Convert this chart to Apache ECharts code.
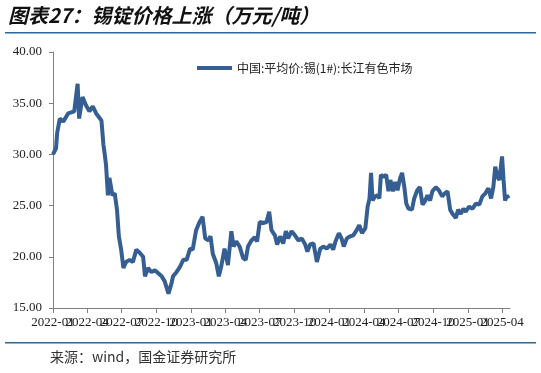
<!DOCTYPE html>
<html>
<head>
<meta charset="utf-8">
<script src="https://cdn.jsdelivr.net/npm/echarts@6/dist/echarts.min.js"></script>
<style>
html,body{margin:0;padding:0;background:#fff;}
#chart{width:541px;height:373px;}
</style>
</head>
<body>
<div id="chart"></div>
<script>
const titleText = '图表27：锡锭价格上涨（万元/吨）';
const sourceText = '来源：wind，国金证券研究所';
const seriesName = '中国:平均价:锡(1#):长江有色市场';

const dates = [
'2022-01-01','2022-01-09','2022-01-12','2022-01-19','2022-01-28','2022-02-10','2022-02-26','2022-03-07','2022-03-11','2022-03-20',
'2022-03-29','2022-04-07','2022-04-16','2022-04-25','2022-05-05','2022-05-09','2022-05-14','2022-05-17','2022-05-21','2022-05-26',
'2022-05-30','2022-06-07','2022-06-13','2022-06-19','2022-06-24','2022-06-30','2022-07-06','2022-07-13','2022-07-22','2022-07-31',
'2022-08-09','2022-08-18','2022-08-27','2022-09-01','2022-09-09','2022-09-18','2022-09-27','2022-10-06','2022-10-15','2022-10-23',
'2022-11-02','2022-11-10','2022-11-14','2022-11-23','2022-12-02','2022-12-11','2022-12-20','2022-12-29','2023-01-05','2023-01-14',
'2023-01-23','2023-01-31','2023-02-07','2023-02-15','2023-02-21','2023-02-27','2023-03-08','2023-03-15','2023-03-21','2023-03-30',
'2023-04-08','2023-04-17','2023-04-23','2023-04-30','2023-05-09','2023-05-18','2023-05-25','2023-05-31','2023-06-09','2023-06-18',
'2023-06-24','2023-07-01','2023-07-10','2023-07-19','2023-07-26','2023-08-01','2023-08-10','2023-08-16','2023-08-24','2023-09-01',
'2023-09-08','2023-09-14','2023-09-23','2023-10-02','2023-10-11','2023-10-20','2023-10-29','2023-11-04','2023-11-11','2023-11-20',
'2023-11-29','2023-12-08','2023-12-16','2023-12-25','2024-01-04','2024-01-11','2024-01-17','2024-01-26','2024-02-02','2024-02-08',
'2024-02-16','2024-02-25','2024-03-04','2024-03-13','2024-03-20','2024-03-27','2024-04-05','2024-04-11','2024-04-16','2024-04-20',
'2024-04-24','2024-05-01','2024-05-07','2024-05-12','2024-05-16','2024-05-23','2024-05-30','2024-06-05','2024-06-10','2024-06-17',
'2024-06-23','2024-06-29','2024-07-06','2024-07-11','2024-07-17','2024-07-22','2024-07-28','2024-08-06','2024-08-12','2024-08-20',
'2024-08-27','2024-09-03','2024-09-09','2024-09-16','2024-09-23','2024-09-29','2024-10-08','2024-10-16','2024-10-25','2024-11-01',
'2024-11-08','2024-11-15','2024-11-21','2024-11-30','2024-12-06','2024-12-13','2024-12-20','2024-12-26','2025-01-04','2025-01-13',
'2025-01-22','2025-01-31','2025-02-08','2025-02-16','2025-02-24','2025-03-03','2025-03-09','2025-03-14','2025-03-20','2025-03-25',
'2025-04-01','2025-04-05','2025-04-09','2025-04-14','2025-04-18'
];
const prices = [
30.0,30.6,32.1,33.5,33.2,34.0,34.2,36.9,33.5,35.6,
34.8,34.2,34.7,34.0,33.5,33.3,31.0,30.2,29.0,26.0,
27.7,26.0,26.2,24.6,22.0,20.7,18.9,19.5,19.7,19.5,
20.7,20.4,20.0,18.1,18.9,18.5,18.7,18.4,18.1,17.6,
16.4,17.4,18.1,18.5,19.0,19.7,19.7,20.8,20.7,22.6,
23.4,23.9,21.8,21.6,22.0,20.3,19.4,18.1,19.0,20.8,
19.2,22.5,21.0,21.5,21.0,19.9,19.7,21.0,21.6,21.9,
21.5,23.4,23.3,23.4,24.4,22.6,22.1,21.2,22.0,21.3,
22.5,21.8,22.5,22.1,21.6,21.8,21.2,20.5,21.2,21.3,
19.5,20.8,21.0,20.8,21.2,20.7,21.5,22.3,21.8,21.0,
21.8,22.0,22.1,22.6,23.1,22.3,22.8,24.9,25.7,28.2,
25.5,25.9,26.0,25.7,28.0,27.8,28.0,26.4,27.5,26.4,
27.3,26.5,27.7,28.2,26.8,25.2,24.7,24.6,25.7,26.5,
26.8,25.1,25.4,26.0,25.5,26.4,26.8,26.5,25.9,26.2,
26.4,24.6,24.2,23.8,24.6,24.2,24.7,24.4,24.9,24.7,
25.2,25.1,25.9,26.2,26.7,25.7,26.8,28.8,27.8,27.5,
29.8,27.5,25.5,26.0,25.7
];
const tickMonths = ['2022-01','2022-04','2022-07','2022-10','2023-01','2023-04','2023-07','2023-10',
                    '2024-01','2024-04','2024-07','2024-10','2025-01','2025-04'];
const yTicks = [15, 20, 25, 30, 35, 40];
const xStart = '2022-01-01';
const xEnd = '2025-04-22';

function pad(n){ return n < 10 ? '0' + n : '' + n; }
function fmt(d){ return d.getFullYear() + '-' + pad(d.getMonth()+1) + '-' + pad(d.getDate()); }
function parse(s){ const p = s.split('-').map(Number); return new Date(p[0], p[1]-1, p[2]); }

// calendar days of the axis range
const allDays = [];
for (let d = parse(xStart); d <= parse(xEnd); d.setDate(d.getDate()+1)) allDays.push(fmt(d));
const priceByDate = {};
dates.forEach((d,i)=>{ priceByDate[d] = prices[i]; });
const seriesData = allDays.map(d => (d in priceByDate) ? priceByDate[d] : null);
const tickSet = new Set(tickMonths.map(m => m + '-01'));

const chart = echarts.init(document.getElementById('chart'));
chart.setOption({
  animation:false,
  backgroundColor:'#fff',
  graphic:[
    {type:'text', left:8, top:5, style:{text:titleText, font:'italic bold 20px "Noto Sans CJK SC"', fill:'#111'}},
    {type:'rect', shape:{x:5,y:32,width:531,height:1.5}, style:{fill:'#2b6699'}},
    {type:'rect', shape:{x:5,y:342,width:531,height:1.5}, style:{fill:'#2b6699'}},
    {type:'text', left:50, top:350, style:{text:sourceText, font:'14px "Noto Sans CJK SC"', fill:'#333'}}
  ],
  legend:{
    left:192, top:57,
    icon:'rect', itemWidth:35, itemHeight:4, itemGap:10,
    textStyle:{fontFamily:'"Noto Sans CJK SC"', fontSize:12, color:'#222'},
    data:[seriesName]
  },
  grid:{left:53, right:31, top:52, bottom:65, containLabel:false},
  xAxis:{
    type:'category',
    data:allDays,
    boundaryGap:false,
    axisLine:{show:true, lineStyle:{color:'#808080', width:1}},
    axisTick:{show:true, length:5, interval:function(i, v){ return tickSet.has(v); }, lineStyle:{color:'#808080'}},
    axisLabel:{
      interval:0,
      margin:8,
      fontFamily:'"Liberation Serif"', fontSize:13, color:'#222',
      formatter:function(v){ return tickSet.has(v) ? v.slice(0,7) : ''; }
    },
    splitLine:{show:false}
  },
  yAxis:{
    type:'value', min:yTicks[0], max:yTicks[yTicks.length-1], interval:5,
    axisLine:{show:true, lineStyle:{color:'#808080', width:1}},
    axisTick:{show:true, length:4, lineStyle:{color:'#808080'}},
    axisLabel:{margin:11, fontFamily:'"Liberation Serif"', fontSize:13, color:'#222',
      formatter:function(v){return v.toFixed(2);}},
    splitLine:{show:false}
  },
  series:[{
    name:seriesName, type:'line', data:seriesData, symbol:'none', connectNulls:true,
    lineStyle:{width:4, color:'#355f93'}, itemStyle:{color:'#355f93'}
  }]
});
</script>
</body>
</html>
